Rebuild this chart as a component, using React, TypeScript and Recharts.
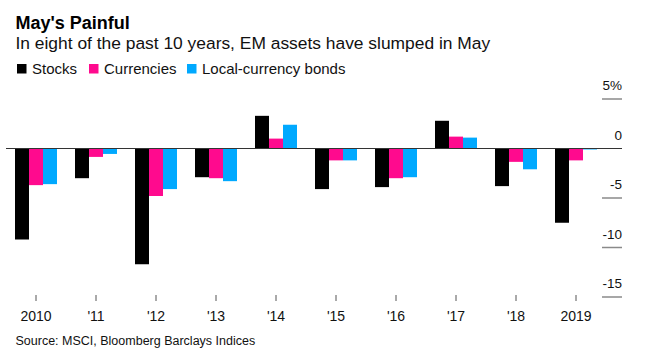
import { BarChart, Bar, XAxis, YAxis, ReferenceLine } from 'recharts';

// May returns (%)
const years = ['2010', "'11", "'12", "'13", "'14", "'15", "'16", "'17", "'18", '2019'];
const stocks = [-9.2, -3.0, -11.7, -2.9, 3.3, -4.1, -3.9, 2.8, -3.8, -7.5];
const currencies = [-3.7, -0.85, -4.8, -3.0, 1.0, -1.2, -3.0, 1.2, -1.35, -1.2];
const bonds = [-3.6, -0.55, -4.1, -3.3, 2.4, -1.2, -2.9, 1.1, -2.1, -0.1];
const yTicks = [-15, -10, -5, 0, 5];
const seriesNames = ['Stocks', 'Currencies', 'Local-currency bonds'];

const FONT = '"Liberation Sans", Arial, Helvetica, sans-serif';
const COLORS = ['#000000', '#ff0a8e', '#00a9ff'];
const LEGEND_X = [17, 89, 187];

const data = years.map((year, i) => ({
    year,
    stocks: stocks[i],
    currencies: currencies[i],
    bonds: bonds[i],
}));

const YTick = (props: any) => {
    const { y, payload } = props;
    const label = payload.value === 5 ? '5%' : String(payload.value);
    return (
        <g>
            {payload.value === 0 ? (
                <line x1={15} x2={622} y1={y} y2={y} stroke="#333" strokeWidth={1.2} />
            ) : (
                <line x1={602} x2={622} y1={y} y2={y} stroke="#8a8a8a" strokeWidth={1.5} />
            )}
            <text x={622} y={y - 9} textAnchor="end" fontSize={13.5} fill="#111" fontFamily={FONT}>
                {label}
            </text>
        </g>
    );
};

const XTick = (props: any) => {
    const { x, y, payload } = props;
    return (
        <g>
            <line x1={x} x2={x} y1={y - 2} y2={y + 4} stroke="#555" strokeWidth={1} />
            <text x={x} y={y + 24} textAnchor="middle" fontSize={14} fill="#111" fontFamily={FONT}>
                {payload.value}
            </text>
        </g>
    );
};

const App = () => {
    return (
        <div style={{ position: 'absolute', left: 0, top: 0, width: 654, height: 350, background: '#fff' }}>
            <div style={{ position: 'absolute', left: 0, top: 0 }}>
                <BarChart
                    width={654}
                    height={350}
                    data={data}
                    margin={{ top: 99, right: 0, left: 6, bottom: 0 }}
                    barGap={0}
                    barSize={14}
                >
                    <XAxis
                        dataKey="year"
                        height={53}
                        axisLine={false}
                        tickLine={false}
                        tickSize={0}
                        tickMargin={0}
                        tick={<XTick />}
                        interval={0}
                    />
                    <YAxis
                        orientation="right"
                        width={48}
                        domain={[-15, 5]}
                        ticks={yTicks}
                        axisLine={false}
                        tickLine={false}
                        tick={<YTick />}
                    />
                    <Bar dataKey="stocks" name={seriesNames[0]} fill={COLORS[0]} isAnimationActive={false} />
                    <Bar dataKey="currencies" name={seriesNames[1]} fill={COLORS[1]} isAnimationActive={false} />
                    <Bar dataKey="bonds" name={seriesNames[2]} fill={COLORS[2]} isAnimationActive={false} />
                    <ReferenceLine y={0} stroke="#333" strokeWidth={1.2} />
                </BarChart>
            </div>
            <svg width={654} height={350} style={{ position: 'absolute', left: 0, top: 0, pointerEvents: 'none' }}>
                <text x={15.5} y={28.5} fontSize={18} fontWeight="bold" fill="#000" fontFamily={FONT}>
                    May's Painful
                </text>
                <text x={15.5} y={49} fontSize={17.4} fill="#111" fontFamily={FONT}>
                    In eight of the past 10 years, EM assets have slumped in May
                </text>
                {seriesNames.map((name, i) => (
                    <g key={name}>
                        <rect x={LEGEND_X[i]} y={64} width={9.5} height={9.5} fill={COLORS[i]} />
                        <text x={LEGEND_X[i] + 15} y={73.5} fontSize={15} fill="#111" fontFamily={FONT}>
                            {name}
                        </text>
                    </g>
                ))}
                <text x={15.5} y={345} fontSize={12.5} fill="#111" fontFamily={FONT}>
                    Source: MSCI, Bloomberg Barclays Indices
                </text>
            </svg>
        </div>
    );
};

export default App;
